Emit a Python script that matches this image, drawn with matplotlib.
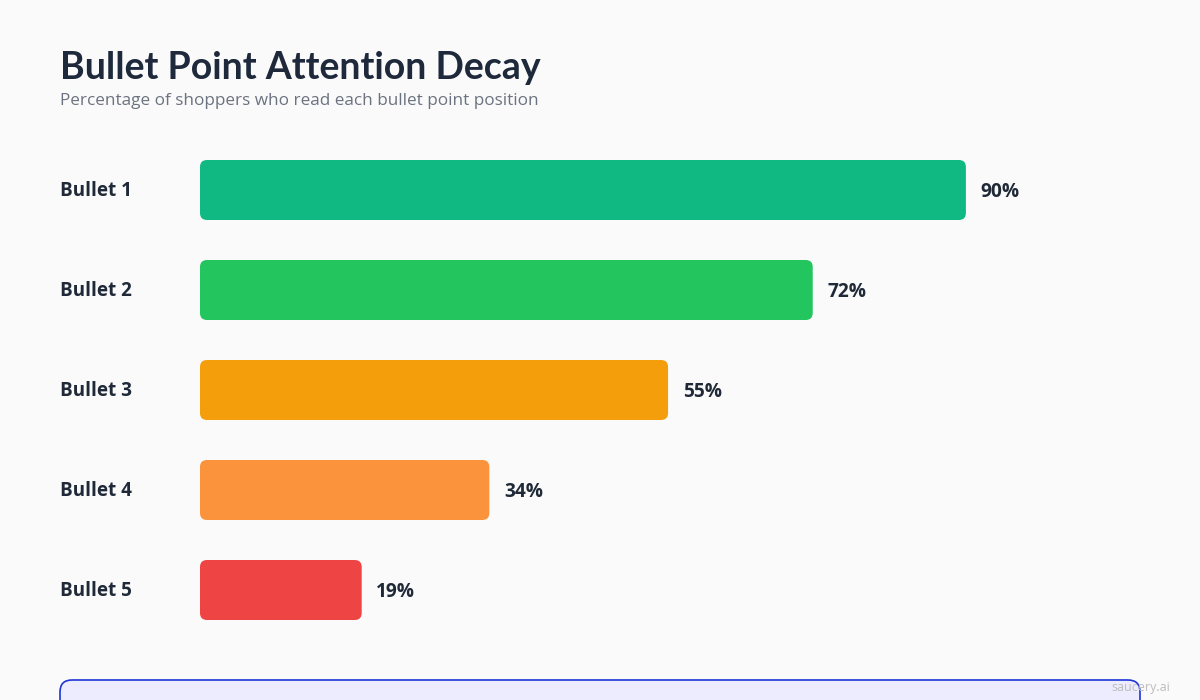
import matplotlib
matplotlib.use("Agg")
import matplotlib.pyplot as plt
import matplotlib.transforms as mtransforms
from matplotlib.patches import FancyBboxPatch

categories = ["Bullet 1", "Bullet 2", "Bullet 3", "Bullet 4", "Bullet 5"]
values = [90, 72, 55, 34, 19]
colors = ["#10B981", "#22C55E", "#F59E0B", "#FB923C", "#EF4444"]

W, H = 1200, 700
BG = "#FAFAFA"
DARK = "#1F2937"
plt.rcParams["font.family"] = ["Open Sans", "DejaVu Sans"]

fig = plt.figure(figsize=(W / 100, H / 100), dpi=100, facecolor=BG)

# axes spans x 200..1051 px, y 140..640 px (5 rows of 100 px)
ax_l, ax_w = 200 / W, 851 / W
ax_b, ax_h = (H - 640) / H, 500 / H
ax = fig.add_axes([ax_l, ax_b, ax_w, ax_h])
ax.set_facecolor(BG)
ax.set_xlim(0, 100)
ax.set_ylim(len(values) - 0.5, -0.5)
ax.axis("off")

px_x = 851 / 100   # pixels per x unit
px_y = 100         # pixels per y unit
radius = 7 / px_x
bar_h = 0.6

for i, (v, c) in enumerate(zip(values, colors)):
    p = FancyBboxPatch((0, i - bar_h / 2), v, bar_h,
                       boxstyle=f"round,pad=0,rounding_size={radius}",
                       mutation_aspect=px_x / px_y,
                       facecolor=c, edgecolor="none")
    ax.add_patch(p)
    ax.annotate(f"{v}%", (v, i), xytext=(10.5, -1.5), textcoords="offset points",
                ha="left", va="center", fontsize=13.8, fontweight="bold", color=DARK)

trans = mtransforms.blended_transform_factory(fig.transFigure, ax.transData)
for i, cat in enumerate(categories):
    ax.text(60 / W, i + 0.015, cat, transform=trans, ha="left", va="center",
            fontsize=13.6, fontweight="bold", color=DARK)

fig.text(60 / W, 1 - 79 / H, "Bullet Point Attention Decay", ha="left",
         va="baseline", fontsize=27, fontweight="bold", color="#1E293B",
         family=["Lato", "DejaVu Sans"])
fig.text(60 / W, 1 - 105 / H, "Percentage of shoppers who read each bullet point position",
         ha="left", va="baseline", fontsize=12.3, color="#6B7280")

# callout box at the bottom, cut off by the figure edge
box = FancyBboxPatch((60 / W, 1 - 740 / H), 1080 / W, 60 / H,
                     boxstyle=f"round,pad=0,rounding_size={12 / W}",
                     mutation_aspect=W / H, transform=fig.transFigure,
                     facecolor="#EDEBFE", edgecolor="#1D35D6", linewidth=1.2)
fig.patches.append(box)

fig.text(1170 / W, 1 - 687 / H, "saucery.ai", ha="right", va="center",
         fontsize=9, color="#BDBDBD")

fig.savefig("out.png", dpi=100, facecolor=BG)
